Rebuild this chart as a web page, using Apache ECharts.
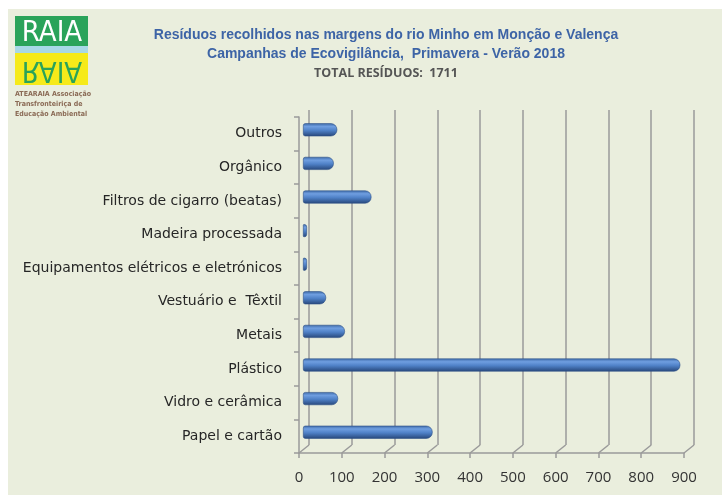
<!DOCTYPE html>
<html>

<head>
    <meta charset="utf-8">
    <title>Resíduos recolhidos</title>
    <script src="https://cdn.jsdelivr.net/npm/echarts@6/dist/echarts.min.js"></script>
    <style>
        body { margin: 0; background: #fff; }
    </style>
</head>

<body>
    <div id="main" style="width: 722px;height:495px;"></div>
    <script type="text/javascript">
        // categorias (de cima para baixo) e valores
        var categorias = ['Outros', 'Orgânico', 'Filtros de cigarro (beatas)', 'Madeira processada',
            'Equipamentos elétricos e eletrónicos', 'Vestuário e  Têxtil', 'Metais', 'Plástico',
            'Vidro e cerâmica', 'Papel e cartão'];
        var valores = [80, 72, 160, 4, 3, 54, 98, 882, 82, 303];
        var ticksX = [0, 100, 200, 300, 400, 500, 600, 700, 800, 900];

        var myChart = echarts.init(document.getElementById('main'));

        var fundo = '#eaeedd';
        var cinza = '#9a9a9a';

        // cilindro azul
        var azul = new echarts.graphic.LinearGradient(0, 0, 0, 1, [
            { offset: 0, color: '#3e6aa8' },
            { offset: 0.25, color: '#6f9ee0' },
            { offset: 0.55, color: '#4f81c7' },
            { offset: 1, color: '#27477a' }
        ]);

        var option = {
            backgroundColor: 'transparent',
            animation: false,
            graphic: [
                { type: 'rect', left: 8, top: 9, shape: { width: 714, height: 486 }, style: { fill: fundo }, z: -10 },
                // logo
                { type: 'rect', left: 15, top: 16, shape: { width: 73, height: 33 }, style: { fill: '#2aa35a' } },
                { type: 'rect', left: 15, top: 51, shape: { width: 73, height: 34 }, style: { fill: '#f6ea1a' } },
                { type: 'rect', left: 15, top: 46, shape: { width: 73, height: 7 }, style: { fill: '#a8d8e6' } },
                { type: 'text', x: 52, y: 33, style: { text: 'RAIA', fill: '#fff', font: '29px "DejaVu Sans Condensed", sans-serif', textAlign: 'center', textVerticalAlign: 'middle' } },
                { type: 'text', x: 52, y: 70, scaleY: -1, style: { text: 'RAIA', fill: '#2aa35a', font: '29px "DejaVu Sans Condensed", sans-serif', textAlign: 'center', textVerticalAlign: 'middle' } },
                { type: 'text', left: 15, top: 89, style: { text: 'ATEARAIA Associação\nTransfronteiriça de\nEducação Ambiental', fill: '#8a6a55', font: 'bold 7px "DejaVu Sans Condensed", sans-serif', lineHeight: 10 } },
                // títulos
                { type: 'text', x: 386, y: 28, style: { text: 'Resíduos recolhidos nas margens do rio Minho em Monção e Valença', fill: '#3d64a6', font: 'bold 14px "Liberation Sans", sans-serif', textAlign: 'center' } },
                { type: 'text', x: 386, y: 47, style: { text: 'Campanhas de Ecovigilância,  Primavera - Verão 2018', fill: '#3d64a6', font: 'bold 14px "Liberation Sans", sans-serif', textAlign: 'center' } },
                { type: 'text', x: 386, y: 67, style: { text: 'TOTAL RESÍDUOS:  1711', fill: '#555', font: 'bold 12.5px "Open Sans", sans-serif', textAlign: 'center' } }
            ],
            grid: [
                { left: 299, right: 38, top: 117, bottom: 42 },
                { left: 309, right: 28, top: 110, bottom: 50 },
                { left: 303, right: 34, top: 113, bottom: 46 }
            ],
            xAxis: [{
                    gridIndex: 0,
                    type: 'value',
                    min: 0,
                    max: 900,
                    interval: 100,
                    axisLine: { show: true, lineStyle: { color: cinza, width: 1.5 } },
                    axisTick: { show: true, length: 5, lineStyle: { color: cinza, width: 1.5 } },
                    axisLabel: { color: '#333', fontSize: 15, fontFamily: 'Open Sans', margin: 17 },
                    splitLine: { show: false }
                },
                {
                    gridIndex: 1,
                    type: 'value',
                    min: 0,
                    max: 900,
                    interval: 100,
                    axisLine: { show: false },
                    axisTick: { show: false },
                    axisLabel: { show: false },
                    splitLine: { show: true, lineStyle: { color: cinza, width: 1.5 } }
                },
                {
                    gridIndex: 2,
                    type: 'value',
                    min: 0,
                    max: 900,
                    show: false
                }
            ],
            yAxis: [{
                    gridIndex: 0,
                    type: 'category',
                    inverse: true,
                    data: categorias,
                    axisLine: { show: true, lineStyle: { color: cinza, width: 1.5 } },
                    axisTick: { show: true, length: 5, lineStyle: { color: cinza, width: 1.5 } },
                    axisLabel: { color: '#262626', fontSize: 14, fontFamily: 'DejaVu Sans', margin: 17 }
                },
                {
                    gridIndex: 1,
                    type: 'category',
                    inverse: true,
                    data: categorias,
                    show: false
                },
                {
                    gridIndex: 2,
                    type: 'category',
                    inverse: true,
                    data: categorias,
                    show: false
                }
            ],
            series: [{
                    // diagonais do chão 3D
                    type: 'custom',
                    xAxisIndex: 0,
                    yAxisIndex: 0,
                    data: ticksX,
                    silent: true,
                    renderItem: function (params, api) {
                        var cs = params.coordSys;
                        var x = api.coord([api.value(0), 0])[0];
                        var y = cs.y + cs.height;
                        return {
                            type: 'line',
                            shape: { x1: x, y1: y, x2: x + 10, y2: y - 8 },
                            style: { stroke: cinza, lineWidth: 1.5 }
                        };
                    }
                },
                {
                    type: 'bar',
                    xAxisIndex: 2,
                    yAxisIndex: 2,
                    data: valores,
                    barWidth: 13,
                    barMinHeight: 4,
                    itemStyle: {
                        color: azul,
                        borderRadius: [2, 6, 6, 2],
                        borderColor: '#2b4f86',
                        borderWidth: 0.6
                    }
                }
            ]
        };

        myChart.setOption(option);
    </script>
</body>

</html>
